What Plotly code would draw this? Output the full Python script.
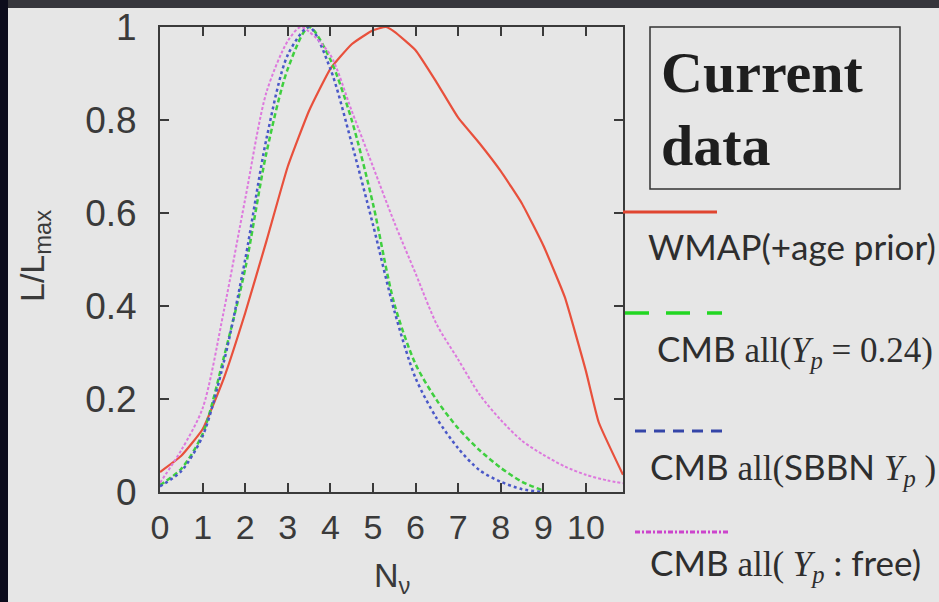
import plotly.graph_objects as go

# ---------------- data ----------------
wmap_x = [0, 0.5, 1, 1.5, 2, 2.5, 3, 3.5, 4, 4.5, 5, 5.3, 5.5, 6, 6.5, 7, 7.5, 8, 8.5, 9, 9.5, 10, 10.3, 10.87]
wmap_y = [0.043, 0.078, 0.135, 0.245, 0.385, 0.54, 0.70, 0.82, 0.91, 0.963, 0.993, 1.0, 0.99, 0.95, 0.88, 0.805, 0.75, 0.69, 0.62, 0.53, 0.42, 0.26, 0.15, 0.037]

yp024_x = [0, 0.5, 1, 1.5, 2, 2.5, 3, 3.5, 4, 4.5, 5, 5.5, 6, 6.5, 7, 7.5, 8, 8.5, 9]
yp024_y = [0.015, 0.05, 0.125, 0.29, 0.48, 0.73, 0.91, 1.0, 0.93, 0.80, 0.62, 0.405, 0.275, 0.197, 0.137, 0.09, 0.052, 0.022, 0.003]

sbbn_x = [0, 0.5, 1, 1.5, 2, 2.5, 3, 3.5, 4, 4.5, 5, 5.5, 6, 6.5, 7, 7.5, 8, 8.5, 9]
sbbn_y = [0.012, 0.045, 0.12, 0.28, 0.50, 0.76, 0.94, 1.0, 0.91, 0.75, 0.575, 0.39, 0.245, 0.158, 0.094, 0.047, 0.022, 0.006, 0.0]

free_x = [0, 0.5, 1, 1.5, 2, 2.5, 3, 3.3, 3.5, 4, 4.5, 5, 5.5, 6, 6.5, 7, 7.5, 8, 8.5, 9, 9.5, 10, 10.5, 10.87]
free_y = [0.02, 0.09, 0.18, 0.39, 0.63, 0.86, 0.97, 1.0, 0.99, 0.94, 0.82, 0.70, 0.58, 0.47, 0.36, 0.285, 0.21, 0.155, 0.11, 0.08, 0.055, 0.037, 0.025, 0.019]

x_ticks = [0, 1, 2, 3, 4, 5, 6, 7, 8, 9, 10]
y_ticks = [0, 0.2, 0.4, 0.6, 0.8, 1.0]
y_ticktext = ["0", "0.2", "0.4", "0.6", "0.8", "1"]

# ---------------- layout geometry ----------------
W, H = 939, 602
L, R, T, B = 160, 623, 27, 492
BG = "#e6e6e6"


def px(x):
    return (x - L) / (R - L)


def py(y):
    return (B - y) / (B - T)


fig = go.Figure()
fig.add_trace(go.Scatter(x=wmap_x, y=wmap_y, mode="lines", name="WMAP(+age prior)",
                         line=dict(color="#e8503c", width=2.2, shape="spline", smoothing=0.4)))
fig.add_trace(go.Scatter(x=yp024_x, y=yp024_y, mode="lines", name="CMB all(Yp=0.24)",
                         line=dict(color="#3fcf3f", width=2.5, dash="5px,3px", shape="spline", smoothing=0.8)))
fig.add_trace(go.Scatter(x=sbbn_x, y=sbbn_y, mode="lines", name="CMB all(SBBN Yp)",
                         line=dict(color="#4a58c8", width=2.5, dash="3px,3px", shape="spline", smoothing=0.8)))
fig.add_trace(go.Scatter(x=free_x, y=free_y, mode="lines", name="CMB all(Yp: free)",
                         line=dict(color="#dd78dd", width=2, dash="3px,2px", shape="spline", smoothing=0.8)))

axis_common = dict(showline=True, linecolor="#3a3a3a", linewidth=2, mirror="ticks",
                   ticks="inside", ticklen=9, tickwidth=2, tickcolor="#3a3a3a",
                   showgrid=False, zeroline=False)
TICKFONT = "Liberation Sans, Arial, sans-serif"

fig.update_xaxes(range=[0, 10.87], tickvals=x_ticks, ticklabelstandoff=4,
                 tickfont=dict(family=TICKFONT, size=34, color="#3a3a3a"), **axis_common)
fig.update_yaxes(range=[0, 1], tickvals=y_ticks, ticktext=y_ticktext, ticklabelstandoff=14,
                 tickfont=dict(family=TICKFONT, size=37, color="#3a3a3a"), **axis_common)

shapes = []
# photo frame: dark strips top and left
shapes.append(dict(type="rect", xref="paper", yref="paper", x0=px(0), x1=px(W), y0=py(0), y1=py(8),
                   fillcolor="#36363c", line=dict(width=0), layer="below"))
shapes.append(dict(type="rect", xref="paper", yref="paper", x0=px(0), x1=px(8), y0=py(0), y1=py(H),
                   fillcolor="#0c0c1c", line=dict(width=0), layer="below"))
# "Current data" box
shapes.append(dict(type="rect", xref="paper", yref="paper", x0=px(650), x1=px(900), y0=py(27), y1=py(189),
                   line=dict(color="#333333", width=1.5), fillcolor="rgba(0,0,0,0)"))
# legend line samples
shapes.append(dict(type="line", xref="paper", yref="paper", x0=px(623), x1=px(717), y0=py(212), y1=py(212),
                   line=dict(color="#e04530", width=3)))
shapes.append(dict(type="line", xref="paper", yref="paper", x0=px(625), x1=px(722), y0=py(313), y1=py(313),
                   line=dict(color="#22d622", width=3.5, dash="24px,17px")))
shapes.append(dict(type="line", xref="paper", yref="paper", x0=px(635), x1=px(728), y0=py(431), y1=py(431),
                   line=dict(color="#3445a8", width=3, dash="11px,8px")))
shapes.append(dict(type="line", xref="paper", yref="paper", x0=px(635), x1=px(728), y0=py(532), y1=py(532),
                   line=dict(color="#cc44cc", width=3, dash="5px,2px,2px,2px")))

SANS = "Lato, Liberation Sans, sans-serif"
SERIF = "Liberation Serif"
TXT = "#2e2e2e"

annotations = []


def ann(text, x, y, size, family=SANS, xanchor="left", yanchor="middle", angle=0, color=TXT):
    annotations.append(dict(text=text, xref="paper", yref="paper", x=px(x), y=py(y),
                            xanchor=xanchor, yanchor=yanchor, showarrow=False, textangle=angle,
                            font=dict(family=family, size=size, color=color)))


ann("<b>Current</b>", 659, 72, 58, family=SERIF, color="#1e1e1e")
ann("<b>data</b>", 659, 145, 58, family=SERIF, color="#1e1e1e")

ann("WMAP(+age prior)", 646, 246, 35)
ann("CMB <span style=\"font-family:Liberation Serif\">all(<i>Y</i><sub><i>p</i></sub> = 0.24)</span>",
    655, 350, 35)
ann("CMB <span style=\"font-family:Liberation Serif\">all(</span>SBBN "
    "<span style=\"font-family:Liberation Serif\"><i>Y</i><sub><i>p</i></sub> )</span>", 648, 468, 35)
ann("CMB <span style=\"font-family:Liberation Serif\">all( <i>Y</i><sub><i>p</i></sub></span> : free)",
    648, 564, 35)

# axis titles
ann("N<sub>ν</sub>", 392, 577, 34, family=TICKFONT, xanchor="center", color="#3a3a3a")
ann("L/L<sub>max</sub>", 35, 256, 34, family=TICKFONT, xanchor="center", angle=-90, color="#3a3a3a")

fig.update_layout(width=W, height=H, margin=dict(l=L, r=W - R, t=T, b=H - B, autoexpand=False),
                  paper_bgcolor=BG, plot_bgcolor=BG, showlegend=False,
                  shapes=shapes, annotations=annotations)

fig.write_html("out.html", config={"displayModeBar": False},
               post_script="document.body.style.margin='0';document.body.style.overflow='hidden';"
                           "document.body.style.background='" + BG + "';")
